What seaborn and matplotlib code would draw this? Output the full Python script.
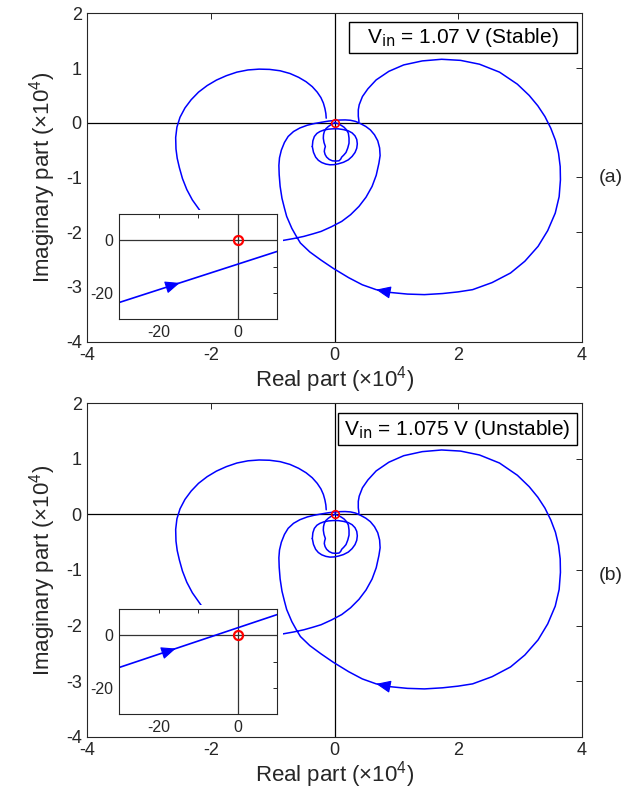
import numpy as np
import pandas as pd
import matplotlib
matplotlib.use("Agg")
import matplotlib.pyplot as plt
from matplotlib.patches import Rectangle
import seaborn as sns

# ---------------------------------------------------------------------------
# Nyquist locus of the loop gain, real / imaginary parts in units of 1e4
# ---------------------------------------------------------------------------
nyq_re = [-0.134, -0.140, -0.155, -0.180, -0.220, -0.280, -0.360, -0.460,
          -0.580, -0.720, -0.880, -1.050, -1.220, -1.400, -1.580, -1.750,
          -1.910, -2.060, -2.200, -2.320, -2.420, -2.500, -2.550, -2.570,
          -2.565, -2.545, -2.510, -2.460, -2.390, -2.300, -2.180, -2.050,
          -1.800, -1.450, -1.100, -0.830, -0.660, -0.496, -0.350, -0.217,
          -0.050, 0.117, 0.260, 0.396, 0.510, 0.608, 0.675, 0.719, 0.738,
          0.730, 0.700, 0.647, 0.580, 0.507, 0.420, 0.340, 0.260, 0.173,
          0.090, 0.006, -0.100, -0.217, -0.330, -0.440, -0.560, -0.663,
          -0.750, -0.810, -0.860, -0.890, -0.900, -0.895, -0.880, -0.850,
          -0.810, -0.774, -0.690, -0.620, -0.552, -0.400, -0.217, -0.020,
          0.229, 0.450, 0.674, 0.900, 1.180, 1.455, 1.750, 2.000, 2.235,
          2.550, 2.848, 3.080, 3.294, 3.450, 3.572, 3.635, 3.656, 3.652,
          3.625, 3.575, 3.500, 3.405, 3.290, 3.150, 2.959, 2.670, 2.346,
          2.040, 1.733, 1.420, 1.120, 0.880, 0.674, 0.540, 0.452, 0.400,
          0.385, 0.385, 0.396]
nyq_im = [0.084, 0.170, 0.260, 0.360, 0.460, 0.560, 0.660, 0.750,
          0.830, 0.900, 0.950, 0.975, 0.980, 0.965, 0.925, 0.860,
          0.780, 0.680, 0.560, 0.420, 0.270, 0.100, -0.080, -0.270,
          -0.480, -0.650, -0.820, -1.020, -1.220, -1.410, -1.600, -1.800,
          -2.000, -2.130, -2.170, -2.149, -2.115, -2.076, -2.030, -1.985,
          -1.900, -1.802, -1.680, -1.528, -1.360, -1.163, -0.960, -0.738,
          -0.600, -0.460, -0.330, -0.220, -0.130, -0.068, -0.015, 0.025,
          0.045, 0.052, 0.050, 0.043, 0.030, 0.008, -0.015, -0.045,
          -0.095, -0.160, -0.250, -0.360, -0.500, -0.640, -0.780, -0.950,
          -1.160, -1.380, -1.560, -1.711, -1.930, -2.070, -2.197, -2.360,
          -2.510, -2.660, -2.830, -2.960, -3.049, -3.100, -3.130, -3.140,
          -3.120, -3.090, -3.049, -2.920, -2.745, -2.530, -2.258, -1.970,
          -1.650, -1.350, -1.042, -0.800, -0.555, -0.320, -0.100, 0.114,
          0.310, 0.500, 0.705, 0.925, 1.070, 1.140, 1.160, 1.130, 1.057,
          0.940, 0.783, 0.620, 0.479, 0.330, 0.236, 0.120, 0.023]
# locus point that carries the direction arrow
arrow_point = (0.674, -3.049)

# high-frequency loops that wind around the origin
outer_loop_re = [-0.359, -0.350, -0.326, -0.285, -0.235, -0.170, -0.100,
                 -0.020, 0.062, 0.145, 0.224, 0.285, 0.332, 0.360, 0.369,
                 0.360, 0.332, 0.285, 0.224, 0.145, 0.062, -0.005, -0.073,
                 -0.140, -0.208, -0.262, -0.305, -0.340, -0.359]
outer_loop_im = [-0.434, -0.330, -0.251, -0.195, -0.160, -0.132, -0.117,
                 -0.110, -0.111, -0.125, -0.148, -0.185, -0.239, -0.305,
                 -0.385, -0.465, -0.543, -0.615, -0.677, -0.722, -0.750,
                 -0.765, -0.768, -0.755, -0.726, -0.685, -0.628, -0.540,
                 -0.434]
inner_loop_re = [0.008, -0.050, -0.100, -0.140, -0.165, -0.178, -0.181,
                 -0.170, -0.148, -0.160, -0.165, -0.152, -0.127, -0.085,
                 -0.035, 0.020, 0.073, 0.100, 0.116, 0.150, 0.186, 0.215,
                 0.235, 0.235, 0.224, 0.195, 0.154, 0.105, 0.062, 0.008]
inner_loop_im = [0.004, -0.030, -0.069, -0.110, -0.160, -0.220, -0.282,
                 -0.360, -0.434, -0.480, -0.525, -0.580, -0.628, -0.670,
                 -0.695, -0.700, -0.695, -0.665, -0.628, -0.590, -0.543,
                 -0.460, -0.373, -0.280, -0.190, -0.130, -0.081, -0.045,
                 -0.020, 0.004]

# close-up of the locus next to the critical point (raw units)
zoom_re = [-30.0, 10.0]
zoom_im = {"a": [-23.6, -4.2], "b": [-12.2, 7.9]}
zoom_arrow_re = {"a": -14.7, "b": -15.7}

critical_re, critical_im = [0.0], [0.0]

panel_keys = ["a", "b"]
panel_notes = {"a": "V$_{\\rm in}$ = 1.07 V (Stable)",
               "b": "V$_{\\rm in}$ = 1.075 V (Unstable)"}
panel_tags = {"a": "(a)", "b": "(b)"}

main_xticks = [-4, -2, 0, 2, 4]
main_yticks = [-4, -3, -2, -1, 0, 1, 2]
zoom_ticks = [-30, -20, -10, 0, 10]
zoom_ticklabels = ["", "-20", "", "0", ""]

# ---------------------------------------------------------------------------
sns.set_theme(style="white")
plt.rcParams["font.family"] = ["Liberation Sans", "DejaVu Sans"]
plt.rcParams["mathtext.default"] = "regular"
plt.rcParams["axes.unicode_minus"] = False

INK = "#262626"
BLUE = "#0000ff"

W, H = 628, 791
fig = plt.figure(figsize=(W / 100, H / 100), dpi=100)
fig.patch.set_facecolor("white")


def fbox(left, top, right, bottom):
    """Pixel box -> figure fraction [l, b, w, h]."""
    return [left / W, 1 - bottom / H, (right - left) / W, (bottom - top) / H]


main_boxes = {"a": (87.3, 13.3, 581.7, 341.7), "b": (87.3, 403.3, 581.7, 736.7)}
zoom_boxes = {"a": (119.3, 214.0, 277.3, 319.3), "b": (119.3, 609.0, 277.3, 714.3)}
note_boxes = {"a": (0.529, 0.880, 0.990, 0.974), "b": (0.507, 0.875, 0.990, 0.970)}
tag_y = {"a": 178, "b": 575}

locus = pd.DataFrame({"re": nyq_re, "im": nyq_im})
outer = pd.DataFrame({"re": outer_loop_re, "im": outer_loop_im})
inner = pd.DataFrame({"re": inner_loop_re, "im": inner_loop_im})
arrow_idx = list(zip(nyq_re, nyq_im)).index(arrow_point)


def style_axes(ax, size, length):
    for sp in ax.spines.values():
        sp.set_visible(True)
        sp.set_color(INK)
        sp.set_linewidth(0.8)
    ax.tick_params(direction="in", top=True, right=True, length=length,
                   width=0.7, color=INK, labelcolor=INK, labelsize=size,
                   pad=4)


for key in panel_keys:
    ax = fig.add_axes(fbox(*main_boxes[key]))
    ax.axhline(0, color="black", lw=0.9, zorder=1)
    ax.axvline(0, color="black", lw=0.9, zorder=1)
    for df in (locus, outer, inner):
        sns.lineplot(data=df, x="re", y="im", sort=False, estimator=None,
                     color=BLUE, lw=1.1, ax=ax, zorder=2)
    i = arrow_idx
    tail = (nyq_re[i] + 0.25 * (nyq_re[i + 1] - nyq_re[i]),
            nyq_im[i] + 0.25 * (nyq_im[i + 1] - nyq_im[i]))
    ax.annotate("", xy=(nyq_re[i], nyq_im[i]), xytext=tail,
                arrowprops=dict(arrowstyle="-|>,head_length=0.75,head_width=0.32",
                                color=BLUE, lw=0.8, shrinkA=0, shrinkB=0,
                                mutation_scale=12), zorder=3)
    ax.plot(critical_re, critical_im, "o", mfc="none", mec="red", ms=5.5,
            mew=1.2, zorder=4)
    ax.set_xlim(-4, 4)
    ax.set_ylim(-4, 2)
    ax.set_xticks(main_xticks)
    ax.set_yticks(main_yticks)
    style_axes(ax, 13, 4)
    ax.set_xlabel("Real part (×10$^4$)", fontsize=16, color=INK, labelpad=0)
    ax.set_ylabel("Imaginary part (×10$^4$)", fontsize=16, color=INK,
                  labelpad=6)

    # boxed operating-point note
    x0, y0, x1, y1 = note_boxes[key]
    ax.add_patch(Rectangle((x0, y0), x1 - x0, y1 - y0, transform=ax.transAxes,
                           fc="white", ec="black", lw=1.0, zorder=5))
    ax.text((x0 + x1) / 2, (y0 + y1) / 2, panel_notes[key],
            transform=ax.transAxes, ha="center", va="center", fontsize=15,
            color="black", zorder=6)

    # white margin around the close-up view
    zl, zt, zr, zb = zoom_boxes[key]
    ax.add_patch(Rectangle(((zl - 2) / W, 1 - (zb + 2) / H),
                           (zr - zl + 8) / W, (zb - zt + 6) / H,
                           transform=fig.transFigure, fc="white", ec="none",
                           zorder=4.5, clip_on=False))

    fig.text(611 / W, 1 - tag_y[key] / H, panel_tags[key], ha="center",
             va="center", fontsize=14, color=INK)

    # close-up of the crossing near the critical point
    axz = fig.add_axes(fbox(*zoom_boxes[key]))
    axz.set_facecolor("white")
    axz.axhline(0, color="#333333", lw=0.9, zorder=1)
    axz.axvline(0, color="#333333", lw=0.9, zorder=1)
    zdf = pd.DataFrame({"re": zoom_re, "im": zoom_im[key]})
    sns.lineplot(data=zdf, x="re", y="im", sort=False, estimator=None,
                 color=BLUE, lw=1.2, ax=axz, zorder=2)
    xa = zoom_arrow_re[key]
    ya = float(np.interp(xa, zoom_re, zoom_im[key]))
    xt = xa - 3.0
    yt = float(np.interp(xt, zoom_re, zoom_im[key]))
    axz.annotate("", xy=(xa, ya), xytext=(xt, yt),
                 arrowprops=dict(arrowstyle="-|>,head_length=0.75,head_width=0.32",
                                 color=BLUE, lw=0.8, shrinkA=0, shrinkB=0,
                                 mutation_scale=12), zorder=3)
    axz.plot(critical_re, critical_im, "o", mfc="none", mec="red", ms=6.5,
             mew=1.6, zorder=4)
    axz.set_xlim(-30, 10)
    axz.set_ylim(-30, 10)
    axz.set_xticks(zoom_ticks)
    axz.set_xticklabels(zoom_ticklabels)
    axz.set_yticks(zoom_ticks)
    axz.set_yticklabels(zoom_ticklabels)
    style_axes(axz, 11.5, 3)
    axz.set_xlabel("")
    axz.set_ylabel("")

fig.savefig("out.png", dpi=100, facecolor="white")
